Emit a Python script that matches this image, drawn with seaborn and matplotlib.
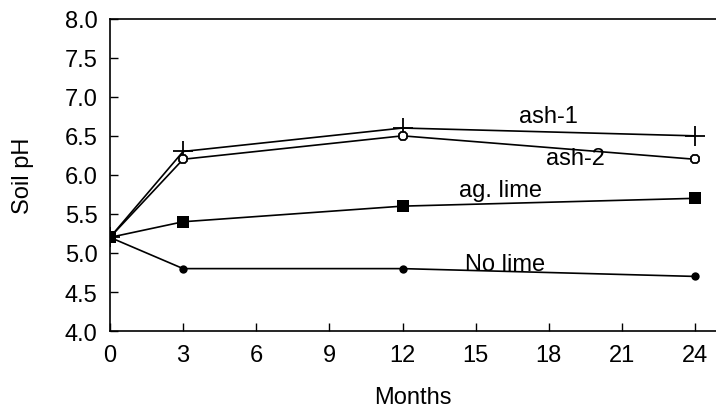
import matplotlib
matplotlib.use("Agg")
import matplotlib.pyplot as plt
import seaborn as sns
import pandas as pd

months = [0, 3, 12, 24]
no_lime = [5.2, 4.8, 4.8, 4.7]
ag_lime = [5.2, 5.4, 5.6, 5.7]
ash_1 = [5.2, 6.3, 6.6, 6.5]
ash_2 = [5.2, 6.2, 6.5, 6.2]
series_names = ["No lime", "ag. lime", "ash-1", "ash-2"]
x_ticks = [0, 3, 6, 9, 12, 15, 18, 21, 24]
y_ticks = [4.0, 4.5, 5.0, 5.5, 6.0, 6.5, 7.0, 7.5, 8.0]

sns.set_theme(style="ticks")
plt.rcParams['font.family'] = ['Liberation Sans', 'DejaVu Sans']
plt.rcParams['text.color'] = 'black'
plt.rcParams['axes.labelcolor'] = 'black'

rows = []
for name, vals in zip(series_names, [no_lime, ag_lime, ash_1, ash_2]):
    for m, v in zip(months, vals):
        rows.append({"Months": m, "pH": v, "series": name})
df = pd.DataFrame(rows)

fig = plt.figure(figsize=(7.16, 4.10), dpi=100)
ax = fig.add_axes([0.1536, 0.190, 0.8464, 0.762])

styles = {
    "ash-1": dict(marker="+", ms=15, mew=1.3, mfc="black"),
    "ash-2": dict(marker="8", ms=7, mew=1.3, mfc="white"),
    "No lime": dict(marker="o", ms=6, mew=0, mfc="black"),
    "ag. lime": dict(marker="s", ms=9, mew=0, mfc="black"),
}
for name in ["ash-1", "ash-2", "No lime", "ag. lime"]:
    sub = df[df.series == name]
    st = styles[name]
    sns.lineplot(data=sub, x="Months", y="pH", ax=ax, color="black", lw=1.2,
                 marker=st["marker"], markersize=st["ms"], markeredgewidth=st["mew"],
                 markerfacecolor=st["mfc"], markeredgecolor="black", legend=False)

ax.set_xlim(0, 24.86)
ax.set_ylim(4.0, 8.0)
ax.set_xticks(x_ticks)
ax.set_yticks(y_ticks)
ax.set_xticklabels([str(t) for t in x_ticks])
ax.set_yticklabels([f"{t:.1f}" for t in y_ticks])
ax.tick_params(direction="in", length=6, width=1, labelsize=17, colors="black", pad=9)
ax.spines["right"].set_visible(False)
for s in ax.spines.values():
    s.set_color("black")
    s.set_linewidth(1.2)
ax.set_xlabel("Months", fontsize=17, labelpad=15)
ax.set_ylabel("Soil pH", fontsize=17, labelpad=22)

ax.text(18.0, 6.75, "ash-1", fontsize=17, ha="center", va="center")
ax.text(19.1, 6.21, "ash-2", fontsize=17, ha="center", va="center")
ax.text(16.0, 5.81, "ag. lime", fontsize=17, ha="center", va="center")
ax.text(16.2, 4.86, "No lime", fontsize=17, ha="center", va="center")

fig.savefig("out.png", dpi=100)
